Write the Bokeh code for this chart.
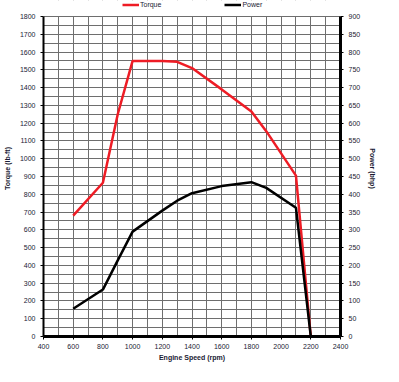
from bokeh.plotting import figure
from bokeh.models import Range1d, LinearAxis, SingleIntervalTicker, Legend, LegendItem, BoxAnnotation
from bokeh.embed import file_html
from bokeh.resources import INLINE

rpm = [600, 800, 900, 1000, 1200, 1300, 1400, 1600, 1800, 1900, 2100, 2200]
torque = [680, 865, 1250, 1550, 1550, 1545, 1510, 1390, 1265, 1155, 905, 0]
power = [78, 132, 214, 295, 354, 382, 403, 423, 434, 418, 362, 0]

FONT = "Liberation Sans"
TXT = "#1a1a33"

# frame extended 16px above the 1800 line to host the legend
p = figure(frame_width=297, frame_height=336, output_backend="svg", toolbar_location=None,
           x_range=Range1d(400, 2400), y_range=Range1d(0, 1890),
           min_border_left=36, min_border_right=46, min_border_top=0, min_border_bottom=20)
p.outline_line_color = None
p.extra_y_ranges = {"power": Range1d(0, 945)}

# grids
p.xgrid.ticker = SingleIntervalTicker(interval=100)
p.ygrid.ticker = SingleIntervalTicker(interval=50)
p.ygrid.bounds = (0, 1800)
for g in (p.xgrid, p.ygrid):
    g.grid_line_color = "#6e6e6e"
    g.grid_line_width = 1

# mask the area above the chart's top
p.add_layout(BoxAnnotation(bottom=1803, fill_color="white", fill_alpha=1, line_color=None))

# axes
p.xaxis.ticker = SingleIntervalTicker(interval=200)
p.yaxis.ticker = SingleIntervalTicker(interval=100)
p.yaxis.bounds = (0, 1800)
p.xaxis.axis_label = "Engine Speed (rpm)"
p.yaxis.axis_label = "Torque (lb-ft)"
right = LinearAxis(y_range_name="power", ticker=SingleIntervalTicker(interval=50),
                   axis_label="Power (bhp)", bounds=(0, 900))
p.add_layout(right, "right")
for ax in (p.xaxis[0], p.yaxis[0], right):
    ax.axis_line_color = "black"
    ax.axis_line_width = 3
    ax.major_tick_line_color = "black"
    ax.major_tick_line_width = 1
    ax.major_tick_out = 3
    ax.major_tick_in = 0
    ax.minor_tick_line_color = None
    ax.major_label_text_font = FONT
    ax.major_label_text_font_size = "7px"
    ax.major_label_text_color = TXT
    ax.major_label_standoff = 4
    ax.axis_label_text_font = FONT
    ax.axis_label_text_font_size = "7px"
    ax.axis_label_text_font_style = "bold"
    ax.axis_label_text_color = TXT
    ax.axis_label_standoff = 6
p.yaxis[0].axis_line_width = 2
p.xaxis[0].major_label_standoff = 3
p.xaxis[0].axis_label_standoff = 2

r_t = p.line(rpm, torque, line_color="#ee1c25", line_width=2.5)
r_p = p.line(rpm, power, line_color="black", line_width=2.5, y_range_name="power")

legend = Legend(items=[LegendItem(label="Torque", renderers=[r_t]),
                       LegendItem(label="Power", renderers=[r_p])],
                orientation="horizontal", location=(79, 328), spacing=63,
                glyph_width=17, glyph_height=7, label_standoff=1, padding=0, margin=0,
                border_line_color=None, background_fill_alpha=0,
                label_text_font=FONT, label_text_font_size="7px", label_text_color=TXT,
                label_height=7)
p.add_layout(legend, "center")

open("out.html", "w").write(file_html(p, INLINE))
